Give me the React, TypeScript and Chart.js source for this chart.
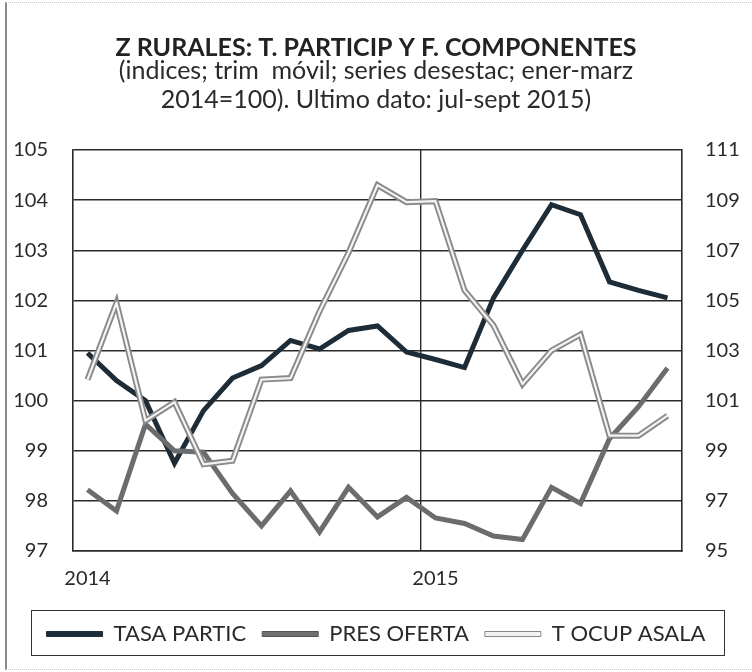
import React, { useEffect, useRef } from 'react';
import { Chart, registerables } from 'chart.js';

Chart.register(...registerables);

// ---- Data ----
const categories = [
  'ene-14', 'feb-14', 'mar-14', 'abr-14', 'may-14', 'jun-14', 'jul-14', 'ago-14', 'sep-14', 'oct-14', 'nov-14', 'dic-14',
  'ene-15', 'feb-15', 'mar-15', 'abr-15', 'may-15', 'jun-15', 'jul-15', 'ago-15', 'sep-15',
];
const xTickLabels = ['2014', '', '', '', '', '', '', '', '', '', '', '', '2015', '', '', '', '', '', '', '', ''];

const tasaPartic = [100.95, 100.4, 100.0, 98.75, 99.8, 100.45, 100.7, 101.2, 101.03, 101.4, 101.49, 100.97, 100.82, 100.66, 102.05, 103.0, 103.91, 103.71, 102.37, 102.2, 102.05];
const presOferta = [98.22, 97.8, 99.53, 99.0, 98.97, 98.15, 97.5, 98.2, 97.38, 98.27, 97.68, 98.07, 97.66, 97.55, 97.3, 97.23, 98.27, 97.95, 99.24, 99.88, 100.65];
const tOcupAsala = [100.42, 101.95, 99.6, 99.97, 98.73, 98.8, 100.42, 100.45, 101.78, 102.95, 104.3, 103.96, 103.98, 102.2, 101.5, 100.33, 101.0, 101.32, 99.3, 99.3, 99.7];

const seriesNames = ['TASA PARTIC', 'PRES OFERTA', 'T OCUP ASALA'];
const leftAxis = { min: 97, max: 105, step: 1 };
const rightAxis = { min: 95, max: 111, step: 2 };

const titleText = 'Z RURALES: T. PARTICIP Y F. COMPONENTES';
const subtitleLines = ['(indices; trim  móvil; series desestac; ener-marz', '2014=100). Ultimo dato: jul-sept 2015)'];

const FONT = 'Lato, "Open Sans", "Liberation Sans", sans-serif';
const GRID = '#2a2a2a';
const LEGEND_FONT_SIZE = 22;
const LEGEND_PADDING = 16;

const doubleLinePlugin = {
  id: 'doubleLine',
  afterDatasetDraw(chart: any, args: any) {
    const ds = chart.data.datasets[args.index];
    if (!ds.innerColor) return;
    const pts = args.meta.data;
    const ctx = chart.ctx;
    const area = chart.chartArea;
    ctx.save();
    ctx.beginPath();
    ctx.rect(area.left, area.top - 10, area.right - area.left, area.bottom - area.top + 20);
    ctx.clip();
    ctx.beginPath();
    pts.forEach((p: any, i: number) => {
      if (i === 0) ctx.moveTo(p.x, p.y);
      else ctx.lineTo(p.x, p.y);
    });
    ctx.strokeStyle = ds.innerColor;
    ctx.lineWidth = ds.innerWidth;
    ctx.lineJoin = 'round';
    ctx.stroke();
    ctx.restore();
  },
};

export default function App() {
  const ref = useRef<HTMLCanvasElement | null>(null);

  useEffect(() => {
    document.body.style.margin = '0';
    const canvas = ref.current;
    if (!canvas) return;
    const chart = new Chart(canvas, {
      type: 'line',
      data: {
        labels: categories,
        datasets: [
          {
            label: seriesNames[0],
            data: tasaPartic,
            borderColor: '#1e2c37',
            borderWidth: 5,
            pointRadius: 0,
            tension: 0,
            order: 3,
            yAxisID: 'y',
            legendFill: '#1e2c37',
            legendStroke: '#1e2c37',
          } as any,
          {
            label: seriesNames[1],
            data: presOferta,
            borderColor: '#6c6c6c',
            borderWidth: 5,
            pointRadius: 0,
            tension: 0,
            order: 2,
            yAxisID: 'y',
            legendFill: '#707070',
            legendStroke: '#555',
          } as any,
          {
            label: seriesNames[2],
            data: tOcupAsala,
            borderColor: '#8a8a8a',
            borderWidth: 6,
            pointRadius: 0,
            tension: 0,
            order: 1,
            yAxisID: 'y',
            innerColor: '#f4f4f4',
            innerWidth: 2.2,
            legendFill: '#f2f2f2',
            legendStroke: '#888',
          } as any,
        ],
      },
      options: {
        responsive: false,
        animation: false,
        layout: { padding: { top: 0, left: 0, right: 0, bottom: 17 } },
        plugins: {
          title: {
            display: true,
            text: titleText,
            color: '#222',
            font: { family: FONT, size: 25, weight: 'bold', lineHeight: 0.7 },
            padding: { top: 39, bottom: 0 },
          },
          subtitle: {
            display: true,
            text: subtitleLines,
            color: '#2a2a2a',
            font: { family: FONT, size: 25, lineHeight: 1.16 },
            padding: { top: 0, bottom: 35.5 },
          },
          legend: {
            position: 'bottom',
            labels: {
              boxWidth: 56,
              boxHeight: 5,
              padding: LEGEND_PADDING,
              color: '#2a2a2a',
              font: { family: FONT, size: LEGEND_FONT_SIZE },
              generateLabels: (ch: any) =>
                ch.data.datasets.map((ds: any, i: number) => ({
                  text: ds.label,
                  fillStyle: ds.legendFill,
                  strokeStyle: ds.legendStroke,
                  lineWidth: 1,
                  hidden: false,
                  datasetIndex: i,
                  fontColor: '#2a2a2a',
                })),
            },
          },
          tooltip: { enabled: false },
        },
        scales: {
          x: {
            type: 'category',
            offset: true,
            grid: {
              offset: true,
              drawTicks: false,
              lineWidth: 1.4,
              color: (c: any) => (c.index === 12 ? GRID : 'rgba(0,0,0,0)'),
            },
            border: { display: true, color: GRID, width: 1.6 },
            ticks: {
              autoSkip: false,
              maxRotation: 0,
              minRotation: 0,
              padding: 16,
              color: '#2a2a2a',
              font: { family: FONT, size: 20 },
              callback: (_v: any, i: number) => xTickLabels[i],
            },
            afterFit: (s: any) => {
              s.height = 56;
            },
          },
          y: {
            position: 'left',
            min: leftAxis.min,
            max: leftAxis.max,
            ticks: { stepSize: leftAxis.step, padding: 25, color: '#2a2a2a', font: { family: FONT, size: 20 } },
            grid: { color: GRID, lineWidth: 1.4, drawTicks: false },
            border: { display: true, color: GRID, width: 1.6 },
            afterFit: (s: any) => {
              s.width = 73;
            },
          },
          y2: {
            position: 'right',
            min: rightAxis.min,
            max: rightAxis.max,
            ticks: { stepSize: rightAxis.step, padding: 23, color: '#2a2a2a', font: { family: FONT, size: 20 } },
            grid: { display: false, drawTicks: false },
            border: { display: true, color: GRID, width: 1.6 },
            afterFit: (s: any) => {
              s.width = 70;
            },
          },
        },
      } as any,
      plugins: [doubleLinePlugin],
    });
    return () => chart.destroy();
  }, []);

  return (
    <div style={{ position: 'relative', width: 752, height: 672, background: '#fff' }}>
      <canvas ref={ref} width={752} height={672} style={{ display: 'block' }} />
      {/* legend frame */}
      <div
        style={{
          position: 'absolute',
          left: 31,
          top: 610,
          width: 692,
          height: 44,
          border: '1.5px solid #333',
          pointerEvents: 'none',
        }}
      />
      {/* page frame */}
      <div
        style={{
          position: 'absolute',
          left: 5,
          top: 2,
          width: 760,
          height: 666,
          borderLeft: '2px solid #8a8a8a',
          borderTop: '1px dotted #c8c8c8',
          borderBottom: '1px dotted #c8c8c8',
          pointerEvents: 'none',
        }}
      />
    </div>
  );
}
